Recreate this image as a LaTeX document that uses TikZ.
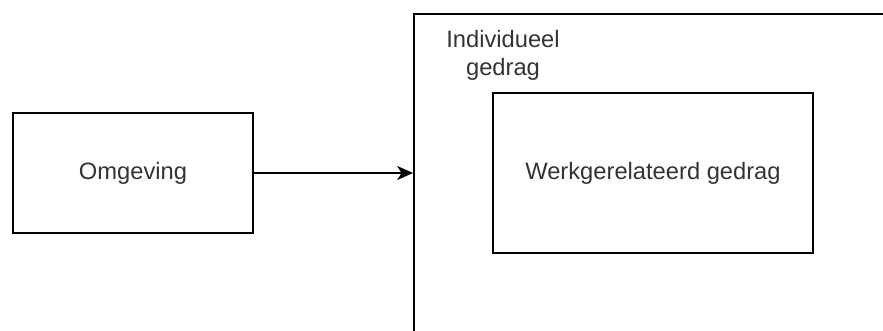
\documentclass[tikz,border=0pt]{standalone}
\usepackage{fontspec}
\setmainfont{Liberation Sans}
\usepackage{xcolor}
\usepackage{tikz}
\usetikzlibrary{arrows.meta}
\definecolor{tcGray}{HTML}{333333}
\tikzstyle{tsText} = [
    text=tcGray,
    font=\fontsize{13.5pt}{16pt}\selectfont
]
\tikzstyle{tsWraptext} = [
    tsText,
    text centered,
    align=center
]
\tikzstyle{tsRectangle} = [
    rectangle,
    tsWraptext,
    draw=black,
    line width=1.1pt,
    inner sep=0pt
]

\begin{document}
\begin{tikzpicture}[x=0.02cm, y=-0.02cm]

        % page frame
        \useasboundingbox (0,0) rectangle (883,331);
        \clip (0,0) rectangle (883,331);

        % left box
        \node[tsRectangle,
        minimum width=240*0.02cm,
        minimum height=120*0.02cm] (omg) at (133,173) {Omgeving};

        % outer box, runs past the right and lower edge
        \node[tsRectangle,
        minimum width=500*0.02cm,
        minimum height=360*0.02cm,
        anchor=north west] (indiv) at (413,13) {};
        \node[tsWraptext] (indivlbl) at (503,55) {Individueel\\gedrag};

        % inner box
        \node[tsRectangle,
        minimum width=320*0.02cm,
        minimum height=160*0.02cm] (werk) at (653,173) {Werkgerelateerd gedrag};

        % arrow into the outer box
        \draw[-{Stealth[length=9pt, width=8pt, inset=2.5pt]}, line width=1.1pt]
        (omg.east) -- (omg.east -| indiv.west);

    \end{tikzpicture}
\end{document}
